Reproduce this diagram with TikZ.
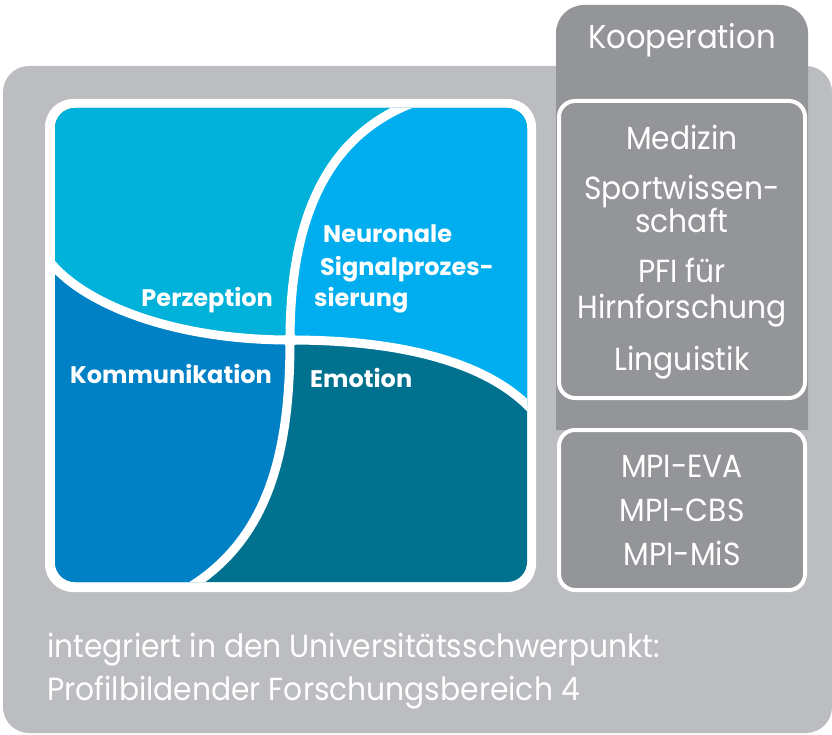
\documentclass[tikz,border=0pt]{standalone}
\usepackage{fontspec}
\setmainfont{Poppins}
\newfontfamily\thinfont{Poppins}[FakeStretch=0.93]
\definecolor{outergray}{HTML}{BCBDC0}
\definecolor{coopgray}{HTML}{939598}
\definecolor{perzcol}{HTML}{00B1D9}
\definecolor{neurocol}{HTML}{00ADEE}
\definecolor{kommcol}{HTML}{0081C6}
\definecolor{emocol}{HTML}{00728F}

\begin{document}
\begin{tikzpicture}[x=1pt, y=-1pt]

        % Setup the styles for boxes and texts
        \tikzset{coop text/.style={text=white,
                                   font=\thinfont\fontsize{32}{36}\selectfont,
                                   anchor=base,
                                   inner sep=0pt},
                 area text/.style={text=white,
                                   font=\bfseries\fontsize{24}{28}\selectfont,
                                   inner sep=0pt},
                 divider/.style={white, line width=9pt},
                 box style/.style={draw=white,
                                   line width=4pt,
                                   fill=coopgray,
                                   rounded corners=16pt}}

        \useasboundingbox (0,0) rectangle (832,735);

        % Draw the backgrounds
        \fill[outergray, rounded corners=26pt] (3,66) rectangle (832,733);
        \fill[coopgray] (556,430) [rounded corners=28pt] -- (556,5) -- (808,5)
            [sharp corners] -- (808,430) -- cycle;
        \draw[box style] (559,101) rectangle (805,398);
        \draw[box style] (559,430) rectangle (805,590);

        % Draw the four research areas
        \coordinate (top)   at (410,104);
        \coordinate (mid)   at (290,340);
        \coordinate (bot)   at (185,590);
        \coordinate (left)  at (50,262);
        \coordinate (right) at (532,410);
        \fill[white, rounded corners=28pt] (45,99) rectangle (536,592);
        \begin{scope}
            \clip[rounded corners=20pt] (55,108) rectangle (527,582);
            \fill[emocol] (50,100) rectangle (532,590);
            \fill[perzcol] (top) .. controls (320,140) and (290,230) .. (mid)
                .. controls (175,340) and (85,305) .. (left) -- (50,100) -- cycle;
            \fill[neurocol] (top) .. controls (320,140) and (290,230) .. (mid)
                .. controls (420,340) and (495,370) .. (right) -- (532,100) -- cycle;
            \fill[kommcol] (left) .. controls (85,305) and (175,340) .. (mid)
                .. controls (290,450) and (270,540) .. (bot) -- (50,590) -- cycle;
            \draw[divider] (top) .. controls (320,140) and (290,230) .. (mid)
                .. controls (290,450) and (270,540) .. (bot);
            \draw[divider] (left) .. controls (85,305) and (175,340) .. (mid)
                .. controls (420,340) and (495,370) .. (right);
            \fill[white] (mid) circle (7pt);
        \end{scope}

        % Area labels
        \node[area text, anchor=base east] at (273,306) (perz) {Perzeption};
        \node[area text, anchor=base west] at (323,243) (neuro1) {Neuronale};
        \node[area text, anchor=base west] at (320,276) (neuro2) {Signalprozes-};
        \node[area text, anchor=base west] at (314,306) (neuro3) {sierung};
        \node[area text, anchor=base east] at (272,383) (komm) {Kommunikation};
        \node[area text, anchor=base west] at (310,387) (emo) {Emotion};

        % Cooperation partners
        \node[coop text, font=\thinfont\fontsize{33}{38}\selectfont]
            at (682,49) (koop) {Kooperation};
        \node[coop text] at (682,150) (med)   {Medizin};
        \node[coop text] at (682,200) (sport) {Sportwissen-};
        \node[coop text] at (682,233) (sport2) {schaft};
        \node[coop text] at (682,282) (pfi)   {PFI für};
        \node[coop text] at (682,318) (pfi2)  {Hirnforschung};
        \node[coop text] at (682,370) (ling)  {Linguistik};
        \node[coop text] at (682,477) (eva)   {MPI-EVA};
        \node[coop text] at (682,521) (cbs)   {MPI-CBS};
        \node[coop text] at (682,565) (mis)   {MPI-MiS};

        % Bottom line
        \node[coop text, anchor=base west, font=\thinfont\fontsize{32}{36}\selectfont]
            at (47,657) (uni1) {integriert in den Universitätsschwerpunkt:};
        \node[coop text, anchor=base west, font=\thinfont\fontsize{32}{36}\selectfont]
            at (47,700) (uni2) {Profilbildender Forschungsbereich 4};
\end{tikzpicture}
\end{document}
